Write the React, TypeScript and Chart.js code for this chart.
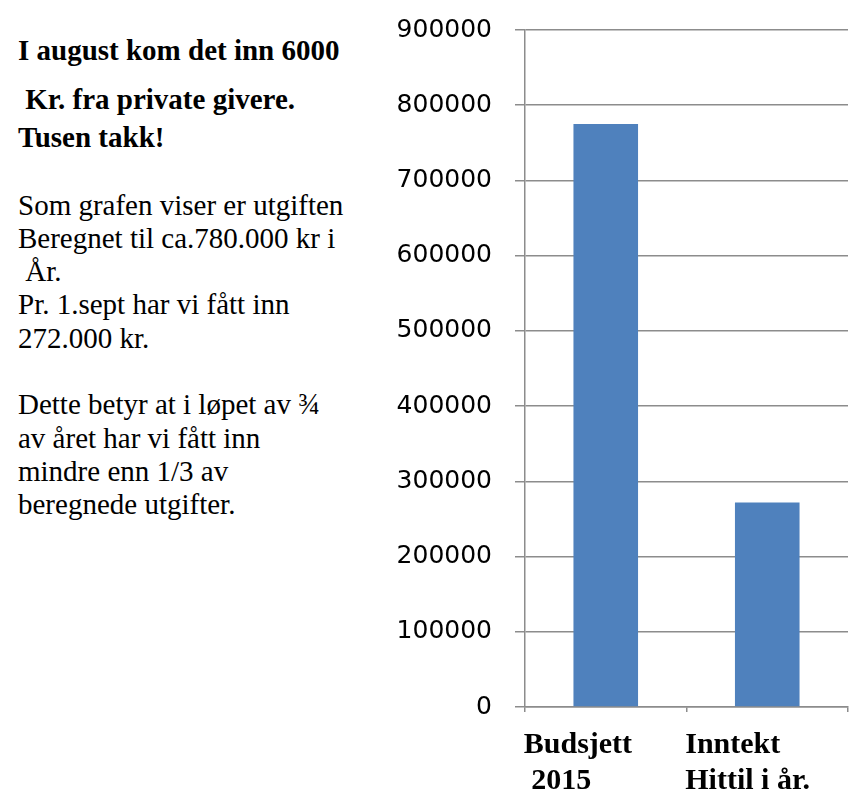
import React, { useEffect, useRef } from "react";
import { Chart, registerables } from "chart.js";

Chart.register(...registerables);

// ---- data ----
const categories: string[][] = [
  ["Budsjett", " 2015"],
  ["Inntekt", "Hittil i år."],
];
const values: number[] = [775000, 272000];
const yMin = 0;
const yMax = 900000;
const yStep = 100000;

const headingLines: string[] = [
  "I august kom det inn 6000",
  " Kr. fra private givere.",
  "Tusen takk!",
];
const bodyLines: string[] = [
  "Som grafen viser er utgiften",
  "Beregnet til ca.780.000 kr i",
  " År.",
  "Pr. 1.sept har vi fått inn",
  "272.000 kr.",
  "",
  "Dette betyr at i løpet av ¾",
  "av året har vi fått inn",
  "mindre enn 1/3 av",
  "beregnede utgifter.",
];

// ---- layout / style ----
const SERIF = "'Liberation Serif', 'Times New Roman', serif";
const TEXT_SIZE = 29;
const headingBaselines = [60, 109, 147];
const bodyFirstBaseline = 215;
const bodyLineHeight = 33.3;
const GRID = "#8c8c8c";
const BAR = "#4F81BD";

function topForBaseline(baseline: number, size: number, lh: number) {
  // Liberation Serif: ascent 0.891, descent 0.216
  return baseline - (lh - 1.107 * size) / 2 - 0.891 * size;
}

export default function App() {
  const canvasRef = useRef<HTMLCanvasElement | null>(null);

  useEffect(() => {
    const canvas = canvasRef.current;
    if (!canvas) return;
    const chart = new Chart(canvas, {
      type: "bar",
      data: {
        labels: categories,
        datasets: [
          {
            data: values,
            backgroundColor: BAR,
            borderWidth: 0,
            barPercentage: 0.4,
            categoryPercentage: 1,
          },
        ],
      },
      options: {
        animation: false,
        responsive: false,
        maintainAspectRatio: false,
        layout: { padding: { top: 30, right: 2, bottom: 0, left: 0 } },
        plugins: {
          legend: { display: false },
          tooltip: { enabled: false },
        },
        scales: {
          x: {
            type: "category",
            offset: true,
            grid: {
              offset: true,
              drawOnChartArea: false,
              drawTicks: true,
              tickLength: 5,
              color: GRID,
              lineWidth: 1.5,
            },
            border: { display: true, color: GRID, width: 1.5 },
            ticks: {
              align: "start",
              labelOffset: -82,
              padding: 15,
              maxRotation: 0,
              minRotation: 0,
              autoSkip: false,
              color: "#000",
              font: { family: SERIF, size: 30, weight: "bold", lineHeight: 1.2 },
            },
            afterFit: (scale: any) => {
              scale.height = 85;
              scale.paddingLeft = 0;
              scale.paddingRight = 0;
            },
          },
          y: {
            min: yMin,
            max: yMax,
            grid: {
              color: GRID,
              lineWidth: 1.5,
              drawTicks: true,
              tickLength: 10,
            },
            border: { display: true, color: GRID, width: 1.5 },
            ticks: {
              stepSize: yStep,
              padding: 23,
              color: "#000",
              font: { family: "'DejaVu Sans', sans-serif", size: 25 },
              callback: (v: any) => String(v),
            },
            afterFit: (scale: any) => {
              scale.width = 145;
              scale.paddingTop = 0;
              scale.paddingBottom = 0;
            },
          },
        },
      },
    });
    return () => chart.destroy();
  }, []);

  return (
    <div
      style={{
        position: "fixed",
        left: 0,
        top: 0,
        width: 850,
        height: 792,
        background: "#fff",
        overflow: "hidden",
      }}
    >
      {headingLines.map((t, i) => (
        <div
          key={"h" + i}
          style={{
            position: "absolute",
            left: 18,
            top: topForBaseline(headingBaselines[i], TEXT_SIZE, TEXT_SIZE),
            fontFamily: SERIF,
            fontWeight: "bold",
            fontSize: TEXT_SIZE,
            lineHeight: TEXT_SIZE + "px",
            whiteSpace: "pre",
            color: "#000",
          }}
        >
          {t}
        </div>
      ))}
      <div
        style={{
          position: "absolute",
          left: 18,
          top: topForBaseline(bodyFirstBaseline, TEXT_SIZE, bodyLineHeight),
          fontFamily: SERIF,
          fontSize: TEXT_SIZE,
          lineHeight: bodyLineHeight + "px",
          whiteSpace: "pre",
          color: "#000",
        }}
      >
        {bodyLines.map((t, i) => (
          <div key={"b" + i} style={{ height: bodyLineHeight }}>
            {t}
          </div>
        ))}
      </div>
      <div style={{ position: "absolute", left: 380, top: 0, width: 470, height: 792 }}>
        <canvas ref={canvasRef} width={470} height={792} style={{ display: "block" }} />
      </div>
    </div>
  );
}
